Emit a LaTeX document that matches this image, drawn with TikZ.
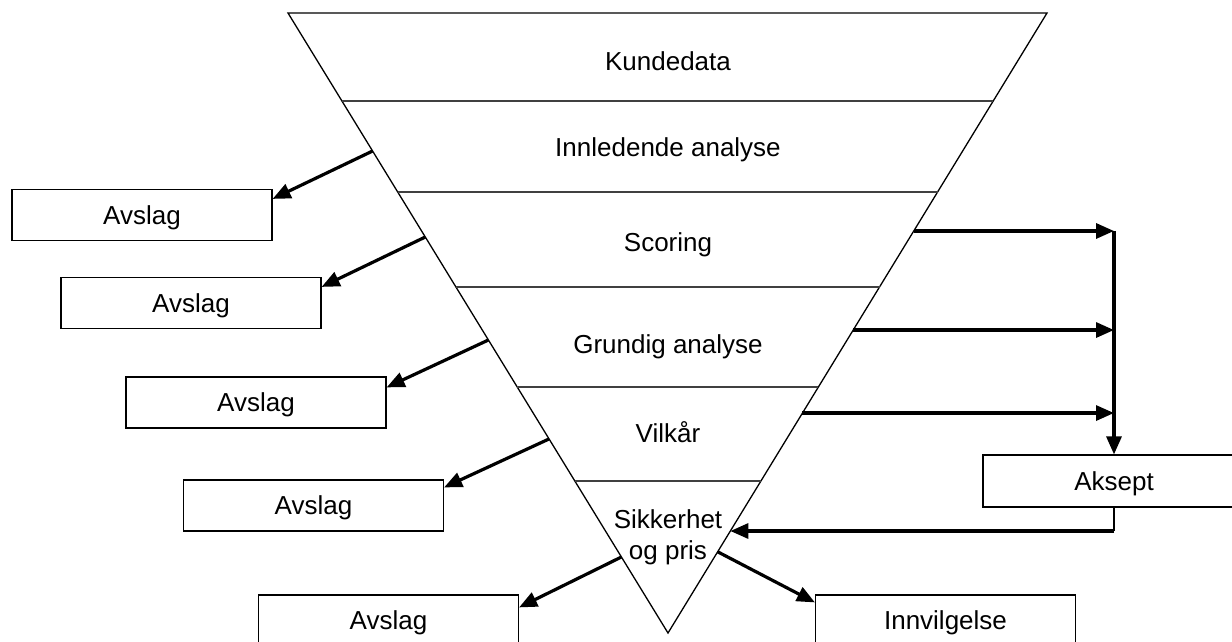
\documentclass[tikz,border=0pt]{standalone}
\usepackage{fontspec}
\setmainfont{Liberation Sans}
\usetikzlibrary{arrows.meta,calc}
\begin{document}
\begin{tikzpicture}[x=1pt,y=-1pt,
  txt/.style={font=\fontsize{26}{31}\selectfont, inner sep=0pt,
              text height=18.7pt, text depth=0pt},
  box/.style={txt, draw, line width=1.2pt, minimum width=260pt,
              minimum height=51pt},
  funnel/.style={line width=1.3pt},
  sep/.style={line width=1.3pt, draw=black!75},
  flow/.style={line width=3.2pt, -{Triangle[length=18pt,width=15pt]}},
  stub/.style={line width=1.2pt}]

\useasboundingbox (0,0) rectangle (1232,641);

% funnel corners
\coordinate (TL) at (288,13);
\coordinate (TR) at (1047,13);
\coordinate (AP) at (668,633);
\draw[funnel, line join=miter] (TL) -- (TR) -- (AP) -- cycle;

% separators between the stages
\foreach \t in {0.1419,0.2887,0.4419,0.6032,0.7548}{
  \draw[sep] ($(TL)!\t!(AP)$) -- ($(TR)!\t!(AP)$);
}

% stage labels
\node[txt] (kunde)  at (668,61.3)  {Kundedata};
\node[txt] (innl)   at (668,147.3) {Innledende analyse};
\node[txt] (scor)   at (668,242)   {Scoring};
\node[txt] (grund)  at (668,344)   {Grundig analyse};
\node[txt] (vilk)   at (668,433.5) {Vilkår};
\node[font=\fontsize{26}{31}\selectfont, inner sep=0pt, align=center]
      (sikk) at (668,537) {Sikkerhet\\og pris};

% outcome boxes
\node[box] (av1) at (142,215)   {Avslag};
\node[box] (av2) at (191,303)   {Avslag};
\node[box] (av3) at (256,402.5) {Avslag};
\node[box] (av4) at (313.5,505.5) {Avslag};
\node[box] (av5) at (388.5,620.5) {Avslag};
\node[box] (inn) at (945.5,620.5) {Innvilgelse};
\node[box, minimum width=262pt, minimum height=52pt] (aks) at (1114,481) {Aksept};

% exit points on the funnel edges
\coordinate (l1) at ($(TL)!0.2226!(AP)$);
\coordinate (l2) at ($(TL)!0.3613!(AP)$);
\coordinate (l3) at ($(TL)!0.5274!(AP)$);
\coordinate (l4) at ($(TL)!0.6870!(AP)$);
\coordinate (l5) at ($(TL)!0.8774!(AP)$);
\coordinate (r5) at ($(TR)!0.8690!(AP)$);
\coordinate (r1) at ($(TR)!0.3516!(AP)$);
\coordinate (r2) at ($(TR)!0.5113!(AP)$);
\coordinate (r3) at ($(TR)!0.6452!(AP)$);
\coordinate (rin) at ($(TR)!0.8355!(AP)$);

% rejections
\draw[flow] (l1) -- ([yshift=-10pt]av1.north east);
\draw[flow] (l2) -- ([yshift=-10pt]av2.north east);
\draw[flow] (l3) -- ([yshift=-11pt]av3.north east);
\draw[flow] (l4) -- ([yshift=-8pt]av4.north east);
\draw[flow] (l5) -- ([yshift=-13pt]av5.north east);
\draw[flow] (r5) -- ([yshift=-8pt]inn.north west);

% acceptance collector
\coordinate (j1) at (aks.north |- r1);
\coordinate (j2) at (aks.north |- r2);
\coordinate (j3) at (aks.north |- r3);
\draw[flow] (r1) -- (j1);
\draw[flow] (r2) -- (j2);
\draw[flow] (r3) -- (j3);
\draw[flow] (j1) -- (aks.north);

% back to the last stage
\coordinate (ret) at (aks.south |- rin);
\draw[stub] (aks.south) -- (ret);
\draw[flow] (ret) -- (rin);
\end{tikzpicture}
\end{document}
